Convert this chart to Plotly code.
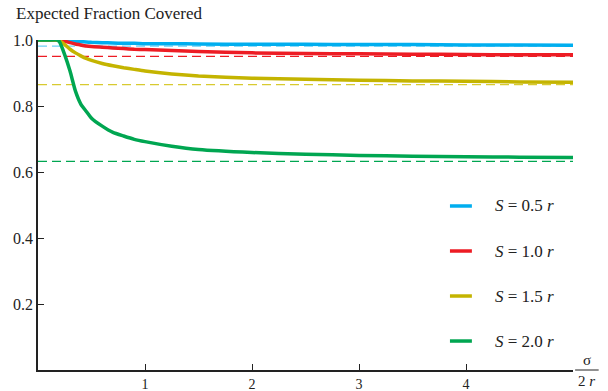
import plotly.graph_objects as go
import math

x_vals = [0, 0.1, 0.18, 0.2, 0.25, 0.3, 0.35, 0.4, 0.45, 0.5, 0.6, 0.7, 0.8, 0.9, 1.0,
          1.25, 1.5, 2.0, 2.5, 3.0, 3.5, 4.0, 4.5, 5.0]

s05 = [1.0, 1.0, 1.0, 1.0, 0.999, 0.997, 0.996, 0.995, 0.994, 0.993, 0.992, 0.991, 0.990, 0.990, 0.989,
       0.989, 0.988, 0.987, 0.987, 0.986, 0.986, 0.985, 0.985, 0.984]
s10 = [1.0, 1.0, 1.0, 0.999, 0.996, 0.992, 0.988, 0.985, 0.982, 0.980, 0.978, 0.976, 0.974, 0.972, 0.971,
       0.968, 0.965, 0.961, 0.959, 0.958, 0.957, 0.956, 0.955, 0.955]
s15 = [1.0, 1.0, 1.0, 0.998, 0.986, 0.972, 0.961, 0.952, 0.944, 0.938, 0.929, 0.922, 0.916, 0.911, 0.906,
       0.897, 0.891, 0.884, 0.881, 0.878, 0.876, 0.875, 0.873, 0.872]
s20 = [1.0, 1.0, 1.0, 0.995, 0.955, 0.905, 0.845, 0.806, 0.784, 0.763, 0.739, 0.720, 0.709, 0.699, 0.692,
       0.678, 0.668, 0.659, 0.654, 0.650, 0.648, 0.646, 0.645, 0.644]

series = [s05, s10, s15, s20]
labels = ["<i>S</i> = 0.5 <i>r</i>", "<i>S</i> = 1.0 <i>r</i>",
          "<i>S</i> = 1.5 <i>r</i>", "<i>S</i> = 2.0 <i>r</i>"]
limits = [1 - math.exp(-4), 1 - math.exp(-3), 1 - math.exp(-2), 1 - math.exp(-1)]
colors = ["#00AEEF", "#ED1C24", "#C4B400", "#00A651"]
dash_colors = ["#6CCFF6", "#ED1C24", "#D8CA30", "#00A651"]
x_ticks = [1, 2, 3, 4]
y_ticks = [0.2, 0.4, 0.6, 0.8, 1.0]
y_tick_text = ["0.2", "0.4", "0.6", "0.8", "1.0"]

FONT = "Liberation Serif"

fig = go.Figure()
for lim, dc in zip(limits, dash_colors):
    fig.add_trace(go.Scatter(x=[0, 5], y=[lim, lim], mode="lines",
                             line=dict(color=dc, width=1.2, dash="9px,5px"),
                             showlegend=False, hoverinfo="skip"))
for ys, lab, c in zip(series, labels, colors):
    fig.add_trace(go.Scatter(x=x_vals, y=ys, mode="lines", name=lab, showlegend=False,
                             line=dict(color=c, width=3.5, shape="spline", smoothing=0.5)))

# manual legend (line sample + label), stacked downward
annotations = []
shapes = []
leg_top = 0.497
leg_step = 0.1364
for k, (lab, c) in enumerate(zip(labels, colors)):
    yy = leg_top - k * leg_step
    shapes.append(dict(type="line", xref="paper", yref="paper", x0=0.770, x1=0.811,
                       y0=yy, y1=yy, line=dict(color=c, width=3.5)))
    annotations.append(dict(text=lab, xref="paper", yref="paper", x=0.850, y=yy,
                            xanchor="left", yanchor="middle", showarrow=False,
                            font=dict(size=17, family=FONT)))

annotations += [
    dict(text="Expected Fraction Covered", xref="paper", yref="paper",
         x=-0.045, y=1.0, xanchor="left", yanchor="bottom", yshift=15,
         showarrow=False, font=dict(size=17, family=FONT)),
    dict(text="σ", xref="paper", yref="paper", x=1.026, y=0.0, yshift=0,
         xanchor="center", yanchor="bottom", showarrow=False,
         font=dict(size=15, family=FONT)),
    dict(text="2 <i>r</i>", xref="paper", yref="paper", x=1.026, y=0.0, yshift=-1,
         xanchor="center", yanchor="top", showarrow=False,
         font=dict(size=15, family=FONT)),
]
shapes.append(dict(type="line", xref="paper", yref="paper", x0=1.004, x1=1.048,
                   y0=0.0, y1=0.0, line=dict(color="#222", width=1)))

fig.update_layout(
    width=608, height=391,
    margin=dict(l=38, r=35, t=40, b=21),
    paper_bgcolor="white", plot_bgcolor="white",
    font=dict(family=FONT, size=15, color="#222"),
    showlegend=False,
    xaxis=dict(range=[0, 5], tickvals=x_ticks, ticks="inside", ticklen=6,
               tickcolor="#222", showline=True, linecolor="#222", linewidth=1.5,
               showgrid=False, zeroline=False, tickfont=dict(size=14, family=FONT),
               automargin=False),
    yaxis=dict(range=[0, 1.0], tickvals=y_ticks, ticktext=y_tick_text,
               ticks="inside", ticklen=6, tickcolor="#222", showline=True,
               linecolor="#222", linewidth=1.5, showgrid=False, zeroline=False,
               tickfont=dict(size=16, family=FONT), automargin=False),
    annotations=annotations,
    shapes=shapes,
)
fig.write_html("out.html", config={"displayModeBar": False},
               post_script="document.body.style.margin='0';")
